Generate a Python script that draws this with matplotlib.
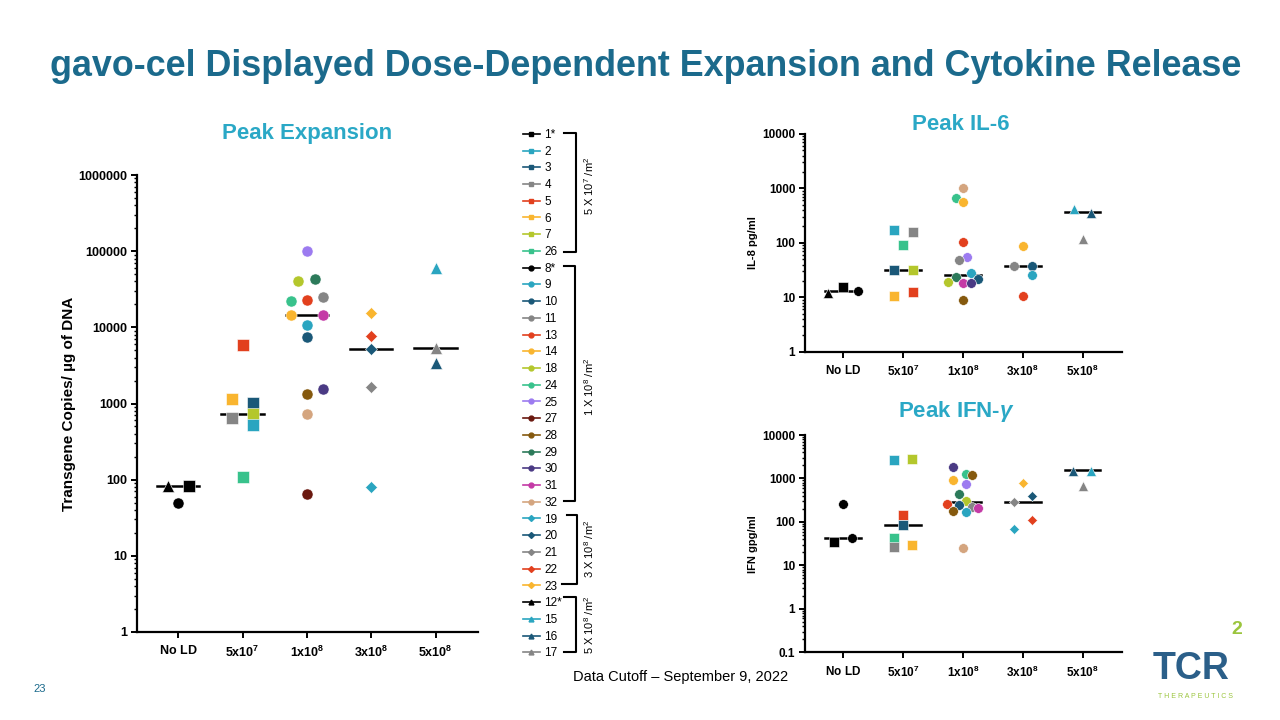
import matplotlib
matplotlib.use('Agg')
import matplotlib.pyplot as plt
from matplotlib.lines import Line2D
from matplotlib.ticker import FixedLocator, LogLocator, NullFormatter, FuncFormatter

plt.rcParams['font.family'] = ['Liberation Sans', 'DejaVu Sans']
plt.rcParams['mathtext.fontset'] = 'custom'
plt.rcParams['mathtext.rm'] = 'Liberation Sans'
plt.rcParams['mathtext.bf'] = 'Liberation Sans:bold'
plt.rcParams['mathtext.it'] = 'Liberation Sans:italic:bold'

# colours per patient colour key
colors = {'k': '#000000', 'cyan': '#2AA5C0', 'dkteal': '#1A5878', 'gray': '#858585',
          'red': '#E2401E', 'yellow': '#F9B52F', 'yg': '#B4C72C', 'green': '#38C28C',
          'lav': '#9C7BF0', 'maroon': '#6A180F', 'brown': '#85590E', 'dkgreen': '#2C7A5A',
          'dkpurple': '#4A3A84', 'magenta': '#C43AA6', 'tan': '#D4A57F'}

doses = ['No LD', '5x10$^7$', '1x10$^8$', '3x10$^8$', '5x10$^8$']
dose_labels = [r'$\mathbf{No\ LD}$', r'$\mathbf{5x10^{7}}$', r'$\mathbf{1x10^{8}}$',
               r'$\mathbf{3x10^{8}}$', r'$\mathbf{5x10^{8}}$']

# ---- Peak expansion
exp_vals = [[82.6, 82, 50],
            [5900, 1135, 1006, 651, 721, 522, 108],
            [101000, 40900, 42700, 21900, 22800, 25200, 14500, 14500, 10800, 7530, 1320, 1550, 721, 64.8],
            [15300, 7690, 5190, 1630, 79.4],
            [59600, 5310, 3370]]
exp_keys = [['k', 'k', 'k'],
            ['red', 'yellow', 'dkteal', 'gray', 'yg', 'cyan', 'green'],
            ['lav', 'yg', 'dkgreen', 'green', 'red', 'gray', 'yellow', 'magenta', 'cyan', 'dkteal',
             'brown', 'dkpurple', 'tan', 'maroon'],
            ['yellow', 'red', 'dkteal', 'gray', 'cyan'],
            ['cyan', 'gray', 'dkteal']]
exp_med = [82, 720, 14500, 5190, 5300]

# ---- Peak IL-6
il6_vals = [[11.8, 15.7, 12.9],
            [170, 157, 92.7, 32, 32, 10.7, 12.7],
            [1021, 669, 557, 104, 55.7, 48.5, 28.3, 23.6, 22, 19.4, 18.3, 18.3, 8.8],
            [86.6, 37.6, 37.6, 25.4, 10.4],
            [415, 350, 119]]
il6_keys = [['k', 'k', 'k'],
            ['cyan', 'gray', 'green', 'dkteal', 'yg', 'yellow', 'red'],
            ['tan', 'green', 'yellow', 'red', 'lav', 'gray', 'cyan', 'dkgreen', 'dkteal', 'yg',
             'magenta', 'dkpurple', 'brown'],
            ['yellow', 'gray', 'dkteal', 'cyan', 'red'],
            ['cyan', 'dkteal', 'gray']]
il6_med = [12.9, 32, 25.7, 37.6, 365]

# ---- Peak IFN-gamma
ifn_vals = [[252, 43, 34.3],
            [2640, 2830, 146, 85.7, 43.8, 25.8, 29.7],
            [1880, 1260, 1170, 931, 741, 436, 306, 261, 243, 219, 208, 183, 171, 25.4],
            [794, 399, 280, 108, 68.3],
            [1500, 1500, 678]]
ifn_keys = [['k', 'k', 'k'],
            ['cyan', 'yg', 'red', 'dkteal', 'green', 'gray', 'yellow'],
            ['dkpurple', 'green', 'brown', 'yellow', 'lav', 'dkgreen', 'yg', 'red', 'dkteal', 'gray',
             'magenta', 'brown', 'cyan', 'tan'],
            ['yellow', 'dkteal', 'gray', 'red', 'cyan'],
            ['dkteal', 'cyan', 'gray']]
ifn_med = [43.6, 87, 280, 282, 1556]

# legend
legend_ids = ['1*', '2', '3', '4', '5', '6', '7', '26',
              '8*', '9', '10', '11', '13', '14', '18', '24', '25', '27', '28', '29', '30', '31', '32',
              '19', '20', '21', '22', '23',
              '12*', '15', '16', '17']
legend_keys = ['k', 'cyan', 'dkteal', 'gray', 'red', 'yellow', 'yg', 'green',
               'k', 'cyan', 'dkteal', 'gray', 'red', 'yellow', 'yg', 'green', 'lav', 'maroon', 'brown',
               'dkgreen', 'dkpurple', 'magenta', 'tan',
               'cyan', 'dkteal', 'gray', 'red', 'yellow',
               'k', 'cyan', 'dkteal', 'gray']
legend_groups = [8, 15, 5, 4]

# layout: horizontal jitter (in category units) and markers
exp_off = [[-0.16, 0.17, 0], [0, -0.16, 0.16, -0.16, 0.16, 0.16, 0],
           [0, -0.13, 0.12, -0.25, 0, 0.25, -0.25, 0.25, 0, 0, 0, 0.25, 0, 0],
           [0] * 5, [0] * 3]
exp_mk = [['^', 's', 'o'], 's', 'o', 'D', '^']
il6_off = [[-0.25, 0, 0.25], [-0.15, 0.16, 0, -0.15, 0.16, -0.15, 0.16],
           [0, -0.12, 0, 0, 0.07, -0.06, 0.13, -0.12, 0.26, -0.25, 0, 0.13, 0],
           [0, -0.15, 0.16, 0.16, 0], [-0.15, 0.15, 0]]
il6_mk = [['^', 's', 'o'], 's', 'o', 'o', '^']
ifn_off = [[0, 0.15, -0.15], [-0.15, 0.15, 0, 0, -0.15, -0.15, 0.15],
           [-0.16, 0.05, 0.15, -0.16, 0.05, -0.06, 0.05, -0.26, -0.06, 0.15, 0.26, -0.16, 0.05, 0],
           [0, 0.16, -0.15, 0.16, -0.15], [-0.16, 0.15, 0]]
ifn_mk = [['o', 'o', 's'], 's', 'o', 'D', '^']

W, H = 1280, 720
fig = plt.figure(figsize=(12.8, 7.2), dpi=100)


def fx(x):
    return x / W


def fy(y):
    return 1 - y / H


def panel(rect, vals, keys, meds, offs, mks, ylim, yticks, size, tsize, halfw):
    ax = fig.add_axes(rect)
    for i in range(len(vals)):
        for j, v in enumerate(vals[i]):
            m = mks[i][j] if isinstance(mks[i], list) else mks[i]
            s = size * (0.8 if m == 'D' else 1.0)
            ax.plot(i + offs[i][j], v, marker=m, ms=s, color=colors[keys[i][j]],
                    mec='white', mew=0.4, ls='none', zorder=3)
        ax.plot([i - halfw, i + halfw], [meds[i], meds[i]], color='black', lw=1.8, zorder=2)
    ax.set_yscale('log')
    ax.set_ylim(*ylim)
    ax.set_xlim(-0.64, 4.66)
    ax.set_xticks(range(5))
    ax.set_xticklabels(dose_labels, fontsize=tsize)
    ax.yaxis.set_major_locator(FixedLocator(yticks))
    ax.yaxis.set_minor_locator(LogLocator(base=10, subs=range(2, 10), numticks=20))
    ax.yaxis.set_minor_formatter(NullFormatter())
    ax.yaxis.set_major_formatter(FuncFormatter(lambda v, p: ('%g' % v) if v < 1 else str(int(round(v)))))
    for lab in ax.get_yticklabels():
        lab.set_fontweight('bold')
        lab.set_fontsize(tsize)
    for s in ['top', 'right']:
        ax.spines[s].set_visible(False)
    for s in ['left', 'bottom']:
        ax.spines[s].set_linewidth(1.6)
    ax.tick_params(axis='both', which='major', width=1.4, length=4, pad=3)
    ax.tick_params(axis='y', which='minor', width=1.0, length=2.5)
    ax.tick_params(axis='x', which='major', pad=5)
    return ax


ax1 = panel([fx(137), fy(632), fx(478 - 137), (632 - 175) / H], exp_vals, exp_keys, exp_med,
            exp_off, exp_mk, (1, 1e6), [1, 10, 100, 1000, 10000, 100000, 1000000], 8, 9, 0.33)
ax1.set_ylabel('Transgene Copies/ µg of DNA', fontsize=11, fontweight='bold', labelpad=2)

ax2 = panel([fx(805), fy(351.7), fx(1122 - 805), (351.7 - 134) / H], il6_vals, il6_keys, il6_med,
            il6_off, il6_mk, (1, 1e4), [1, 10, 100, 1000, 10000], 7, 8.5, 0.3)
ax2.set_ylabel('IL-8 pg/ml', fontsize=8, fontweight='bold', labelpad=3)

ax3 = panel([fx(805), fy(652.3), fx(1122 - 805), (652.3 - 435) / H], ifn_vals, ifn_keys, ifn_med,
            ifn_off, ifn_mk, (0.1, 1e4), [0.1, 1, 10, 100, 1000, 10000], 7, 8.5, 0.3)
ax3.set_ylabel('IFN gpg/ml', fontsize=8, fontweight='bold', labelpad=3)

# titles
title_col = '#1B6A8C'
sub_col = '#2AA8C6'
fig.text(fx(646), fy(67), 'gavo-cel Displayed Dose-Dependent Expansion and Cytokine Release',
         ha='center', va='center', fontsize=25.8, fontweight='bold', color=title_col)
fig.text(fx(307), fy(134), 'Peak Expansion', ha='center', va='center', fontsize=16,
         fontweight='bold', color=sub_col)
fig.text(fx(961), fy(124), 'Peak IL-6', ha='center', va='center', fontsize=16,
         fontweight='bold', color=sub_col)
fig.text(fx(956), fy(412), r'Peak IFN-$\gamma$', ha='center', va='center', fontsize=16,
         fontweight='bold', color=sub_col)

# legend
group_mk = ['s', 'o', 'D', '^']
handles = []
k = 0
for g, n in enumerate(legend_groups):
    for _ in range(n):
        handles.append(Line2D([], [], color=colors[legend_keys[k]], marker=group_mk[g],
                              ms=3.5 if group_mk[g] != 'D' else 3, lw=1.2,
                              label=legend_ids[k]))
        k += 1
fig.legend(handles=handles, loc='upper left', bbox_to_anchor=(fx(523), fy(129)),
           frameon=False, fontsize=8.5, handlelength=1.4, handletextpad=0.4,
           labelspacing=0.40, borderpad=0, borderaxespad=0)

# brackets
brackets = [(133, 252, 564, 564, 576, 186, '5 X 10$^7$ /m$^2$'),
            (266, 501, 564, 564, 575, 387, '1 X 10$^8$ /m$^2$'),
            (515, 584, 567, 562, 577, 549, '3 X 10$^8$ /m$^2$'),
            (597, 652, 564, 564, 576, 625, '5 X 10$^8$ /m$^2$')]
for top, bot, xl_top, xl_bot, xv, yc, txt in brackets:
    fig.add_artist(Line2D([fx(xl_top), fx(xv), fx(xv), fx(xl_bot)],
                          [fy(top), fy(top), fy(bot), fy(bot)], color='black', lw=1.5))
    fig.text(fx(589), fy(yc), txt, rotation=90, ha='center', va='center', fontsize=8)

# footer
fig.text(fx(681), fy(677), 'Data Cutoff – September 9, 2022', ha='center', va='center', fontsize=10.5)
fig.text(fx(40), fy(689), '23', ha='center', va='center', fontsize=8, color=title_col)
fig.text(fx(1191), fy(669), 'TCR', ha='center', va='center', fontsize=27, fontweight='bold',
         color='#2B5F89')
fig.text(fx(1237), fy(629), '2', ha='center', va='center', fontsize=14, color='#9BC53D',
         fontweight='bold')
fig.text(fx(1196), fy(697), 'T H E R A P E U T I C S', ha='center', va='center', fontsize=5,
         color='#9BC53D')

fig.savefig('out.png', dpi=100)
